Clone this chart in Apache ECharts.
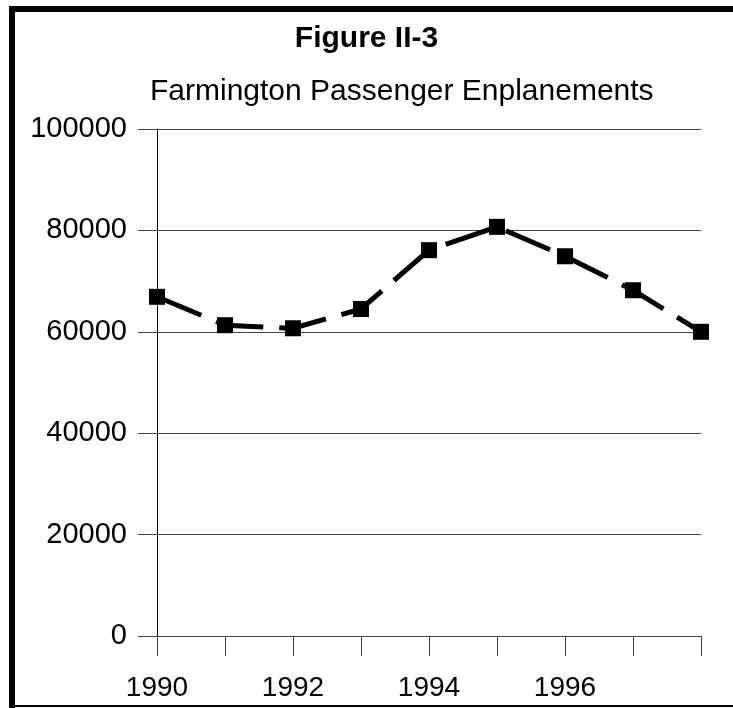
<!DOCTYPE html>
<html>
<head>
<meta charset="utf-8">
<script src="https://cdn.jsdelivr.net/npm/echarts@6/dist/echarts.min.js"></script>
<style>
html,body{margin:0;padding:0;background:#fff;}
#chart{width:733px;height:708px;}
</style>
</head>
<body>
<div id="chart"></div>
<script>
var years = ['1990','1991','1992','1993','1994','1995','1996','1997','1998'];
var enplanements = [66900, 61300, 60700, 64500, 76100, 80700, 74900, 68200, 60000];
var titleText = 'Figure II-3';
var subtitleText = 'Farmington Passenger Enplanements';

var FONT = '"Liberation Sans", Arial, sans-serif';
var chart = echarts.init(document.getElementById('chart'), null, {renderer:'canvas'});
chart.setOption({
  backgroundColor: '#ffffff',
  animation: false,
  title: [
    {text: titleText, left: 'center', top: 19,
     textStyle: {fontFamily: FONT, fontSize: 30, fontWeight: 'bold', color: '#000'}},
    {text: subtitleText, left: 145, top: 72,
     textStyle: {fontFamily: FONT, fontSize: 30, fontWeight: 'normal', color: '#000'}}
  ],
  graphic: [
    {type:'rect', shape:{x:9, y:6, width:6, height:702}, style:{fill:'#000'}},
    {type:'rect', shape:{x:9, y:6, width:724, height:6}, style:{fill:'#000'}},
    {type:'rect', shape:{x:9, y:705, width:724, height:2}, style:{fill:'#000'}}
  ],
  grid: {left: 157, right: 32, top: 129, bottom: 72, containLabel: false},
  xAxis: {
    type: 'category',
    data: years,
    boundaryGap: false,
    axisLine: {show: true, lineStyle: {color: '#444', width: 1}},
    axisTick: {show: true, interval: 0, length: 20, lineStyle: {color: '#444', width: 1}},
    axisLabel: {
      interval: function (i) { return i % 2 === 0 && i < years.length - 1; },
      margin: 38, fontFamily: FONT, fontSize: 28, color: '#000'
    },
    splitLine: {show: false}
  },
  yAxis: {
    type: 'value',
    min: 0, max: 100000, interval: 20000,
    axisLine: {show: true, lineStyle: {color: '#000', width: 1}},
    axisTick: {show: true, length: 19, lineStyle: {color: '#444', width: 1}},
    axisLabel: {margin: 30, fontFamily: FONT, fontSize: 29, color: '#000',
      formatter: function (v) { return String(v); }},
    splitLine: {show: true, lineStyle: {color: '#444', width: 1}}
  },
  series: [{
    type: 'line',
    data: enplanements,
    symbol: 'rect',
    symbolSize: 16,
    itemStyle: {color: '#000'},
    lineStyle: {color: '#000', width: 5, type: [48, 16]},
    z: 5
  }]
});
</script>
</body>
</html>
